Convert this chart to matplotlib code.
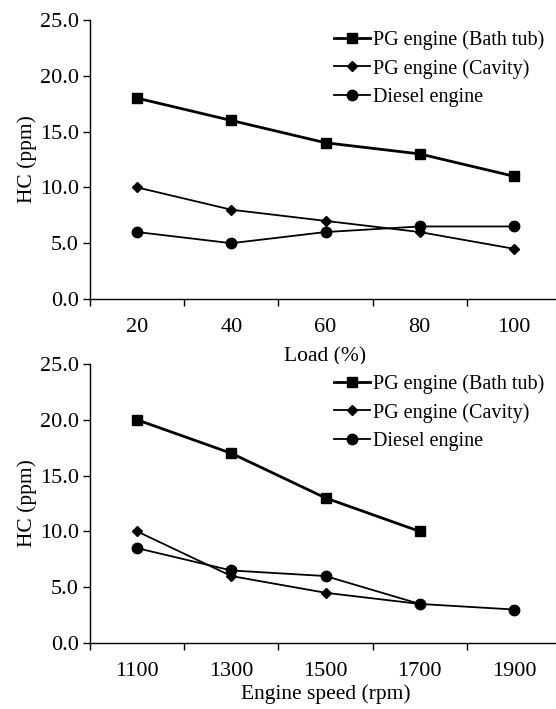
import numpy as np
import matplotlib.pyplot as plt

load = ['20', '40', '60', '80', '100']
speed = ['1100', '1300', '1500', '1700', '1900']

load_bath = [18, 16, 14, 13, 11]
load_cavity = [10, 8, 7, 6, 4.5]
load_diesel = [6, 5, 6, 6.5, 6.5]

speed_bath = [20, 17, 13, 10, np.nan]
speed_cavity = [10, 6, 4.5, 3.5, np.nan]
speed_diesel = [8.5, 6.5, 6, 3.5, 3]

plt.rcParams['font.family'] = ['Liberation Serif', 'DejaVu Serif']
plt.rcParams['font.size'] = 16

W, H = 556, 709
fig = plt.figure(figsize=(W / 100, H / 100), dpi=100)
# axes boxes in pixels: left spine x=90, right end of axis x=561 (cut by the image edge)
ax1 = fig.add_axes([90 / W, 1 - 299 / H, 471 / W, 279 / H])
ax2 = fig.add_axes([90 / W, 1 - 643 / H, 471 / W, 279 / H])


def draw_panel(ax, cats, bath, cavity, diesel, xlabel, legend_top, xpad):
    x = np.arange(len(cats)) + 0.5
    ax.plot(x, bath, color='black', lw=2, marker='s', ms=7.5, label='PG engine (Bath tub)', clip_on=False)
    ax.plot(x, cavity, color='black', lw=1.3, marker='D', ms=5, label='PG engine (Cavity)', clip_on=False)
    ax.plot(x, diesel, color='black', lw=1.3, marker='o', ms=7.5, label='Diesel engine', clip_on=False)

    ax.set_xlim(0, len(cats))
    ax.set_ylim(0, 25)
    yt = np.arange(0, 25.1, 5)
    ax.set_yticks(yt)
    ax.set_yticklabels(['%.1f' % v for v in yt])
    # Excel-style category axis: ticks between categories, labels at centres
    ax.set_xticks(np.arange(len(cats) + 1))
    ax.set_xticklabels([])
    ax.set_xticks(x, minor=True)
    ax.set_xticklabels(cats, minor=True)
    ax.tick_params(axis='x', which='minor', length=0, pad=14)
    ax.tick_params(axis='x', which='major', length=5, width=1, direction='out')
    ax.tick_params(axis='y', length=5, width=1, direction='out', pad=3)
    ax.spines['top'].set_visible(False)
    ax.spines['right'].set_visible(False)
    ax.spines['left'].set_linewidth(1)
    ax.spines['bottom'].set_linewidth(1)
    ax.set_ylabel('HC (ppm)', labelpad=2, fontsize=15.5)
    ax.set_xlabel(xlabel, labelpad=xpad, fontsize=15.5)
    ax.legend(loc='upper left', frameon=False, handlelength=1.8, handletextpad=0.15,
              labelspacing=0.45, borderpad=0, borderaxespad=0, fontsize=14.5,
              bbox_to_anchor=(334 / W, 1 - legend_top / H), bbox_transform=fig.transFigure)


draw_panel(ax1, load, load_bath, load_cavity, load_diesel, 'Load (%)', 30, 7)
draw_panel(ax2, speed, speed_bath, speed_cavity, speed_diesel, 'Engine speed (rpm)', 374, 2)

fig.savefig('out.png', dpi=100)
